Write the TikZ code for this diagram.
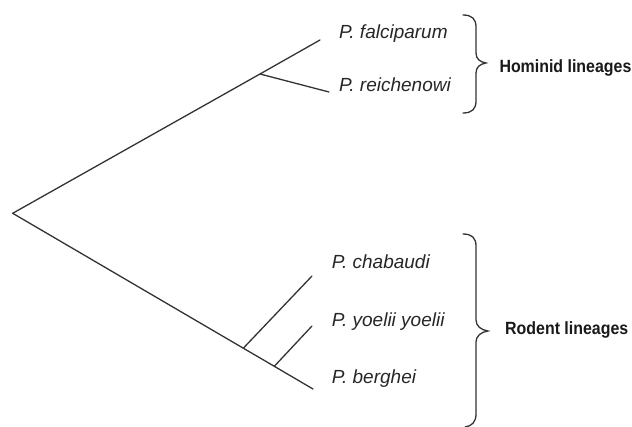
\documentclass[tikz,border=0pt]{standalone}
\usepackage{fontspec}
\setmainfont{Liberation Sans}
\newfontfamily\groupfont[FakeStretch=0.9]{Liberation Sans}
\begin{document}
\begin{tikzpicture}[x=1pt,y=-1pt,
  branch/.style={draw=black!80, line width=1.3pt, line cap=round},
  species/.style={anchor=base west, inner sep=0pt,
    font=\fontsize{19}{21}\selectfont\itshape, text=black!85},
  group/.style={anchor=base west, inner sep=0pt,
    font=\groupfont\fontsize{17.7}{20}\selectfont\bfseries, text=black!90},
  bracket/.style={draw=black!80, line width=1.3pt, line cap=round}]
\useasboundingbox (0,0) rectangle (632,427);

% tree nodes
\coordinate (root) at (12.7,213.3);
\coordinate (hom)  at (260,74);
\coordinate (fal)  at (320,40);
\coordinate (rei)  at (329,92);
\coordinate (cha0) at (243.3,348.2);
\coordinate (yoe0) at (274.3,366.3);
\coordinate (cha)  at (312,276);
\coordinate (yoe)  at (312,326);
\coordinate (ber)  at (313,389);

% branches
\draw[branch] (root) -- (hom) -- (fal);
\draw[branch] (hom) -- (rei);
\draw[branch] (root) -- (cha0) -- (yoe0) -- (ber);
\draw[branch] (cha0) -- (cha);
\draw[branch] (yoe0) -- (yoe);

% species labels
\node[species] (lfal) at (339,38.3)    {P. falciparum};
\node[species] (lrei) at (339,91.7)    {P. reichenowi};
\node[species] (lcha) at (331.7,268.3) {P. chabaudi};
\node[species] (lyoe) at (331.7,326.7) {P. yoelii yoelii};
\node[species] (lber) at (331.7,383.3) {P. berghei};

% group braces
\draw[bracket] (463,15) .. controls (472,15) and (476,19) .. (476,27)
  -- (476,53) .. controls (476,59) and (480,62) .. (486,63)
  .. controls (480,64) and (476,67) .. (476,73)
  -- (476,101) .. controls (476,109) and (472,113) .. (463,113);
\draw[bracket] (463,234) .. controls (472,234) and (476,238) .. (476,246)
  -- (476,320) .. controls (476,326) and (481,330) .. (488,331)
  .. controls (481,332) and (476,336) .. (476,342)
  -- (476,414) .. controls (476,422) and (472,426) .. (465,427);

% group labels
\node[group] (ghom) at (499.3,72.7)  {Hominid lineages};
\node[group] (grod) at (505,334.3)   {Rodent lineages};
\end{tikzpicture}
\end{document}
